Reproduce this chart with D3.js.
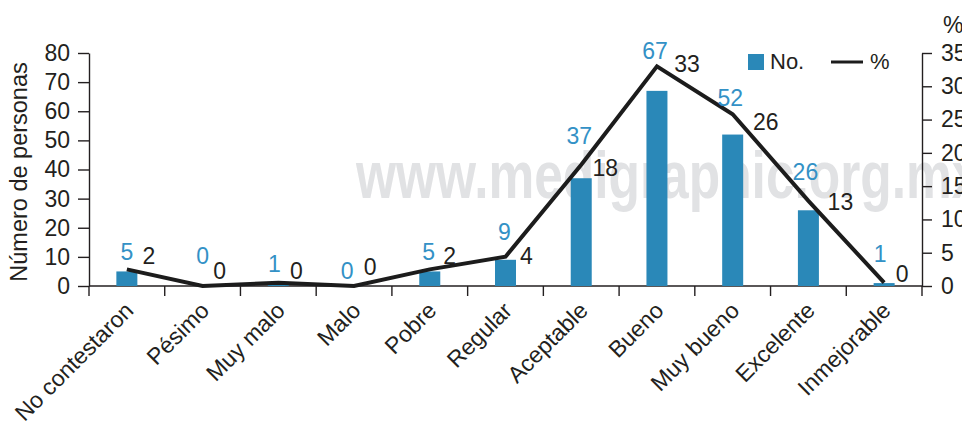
<!DOCTYPE html>
<html>
<head>
<meta charset="utf-8">
<script src="https://cdn.jsdelivr.net/npm/d3@7"></script>
<style>
  body { margin: 0; background: #fff; }
  svg { display: block; font-family: "Liberation Sans", Arial, sans-serif; }
</style>
</head>
<body>
<div id="chart"></div>
<script>
// Data
const categories = ["No contestaron", "Pésimo", "Muy malo", "Malo", "Pobre", "Regular",
    "Aceptable", "Bueno", "Muy bueno", "Excelente", "Inmejorable"];
const counts = [5, 0, 1, 0, 5, 9, 37, 67, 52, 26, 1];
const percents = [2.5, 0, 0.5, 0, 2.5, 4.4, 18.2, 33, 25.8, 12.8, 0.5];
const percentLabels = [2, 0, 0, 0, 2, 4, 18, 33, 26, 13, 0];
const countTicks = [0, 10, 20, 30, 40, 50, 60, 70, 80];
const percentTicks = [0, 5, 10, 15, 20, 25, 30, 35];

const width = 962, height = 422;
const plot = { left: 89, right: 922, top: 53, bottom: 286 };
const ink = "#231f20";
const barColor = "#2a88b8";
const labelBlue = "#3391c6";

const svg = d3.select("#chart")
    .append("svg")
    .attr("width", width)
    .attr("height", height);

// Scales
const x = d3.scaleBand()
    .domain(categories)
    .range([plot.left, plot.right]);

const yCount = d3.scaleLinear()
    .domain([0, 80])
    .range([plot.bottom, plot.top]);

const yPct = d3.scaleLinear()
    .domain([0, 35])
    .range([plot.bottom, plot.top]);

const cx = c => x(c) + x.bandwidth() / 2;

// Watermark (behind marks)
svg.append("text")
    .attr("transform", "translate(356,198) scale(0.78,1)")
    .style("font-size", "66px")
    .style("font-weight", "bold")
    .style("fill", "#e1e2e4")
    .text("www.medigraphic.org.mx");

// Left axis
const gLeft = svg.append("g")
    .attr("transform", `translate(${plot.left},0)`)
    .call(d3.axisLeft(yCount).tickValues(countTicks).tickSize(11).tickSizeOuter(0).tickPadding(8));

// Right axis
const gRight = svg.append("g")
    .attr("transform", `translate(${plot.right},0)`)
    .call(d3.axisRight(yPct).tickValues(percentTicks).tickSize(10).tickSizeOuter(0).tickPadding(9));

[gLeft, gRight].forEach(g => {
    g.select(".domain").attr("stroke", ink).attr("stroke-width", 1.4);
    g.selectAll(".tick line").attr("stroke", ink).attr("stroke-width", 1.4);
    g.selectAll(".tick text")
        .attr("fill", ink)
        .style("font-size", "23px")
        .style("font-family", "'Liberation Sans', Arial, sans-serif");
});

// Bottom axis: baseline with ticks on band edges
svg.append("line")
    .attr("x1", plot.left).attr("x2", plot.right)
    .attr("y1", plot.bottom).attr("y2", plot.bottom)
    .attr("stroke", ink).attr("stroke-width", 1.4);

const edges = categories.map(c => x(c)).concat([x(categories[categories.length - 1]) + x.bandwidth()]);
svg.selectAll(".xtick")
    .data(edges)
    .enter()
    .append("line")
    .attr("class", "xtick")
    .attr("x1", d => d).attr("x2", d => d)
    .attr("y1", plot.bottom).attr("y2", plot.bottom + 10)
    .attr("stroke", ink).attr("stroke-width", 1.4);

svg.selectAll(".xlabel")
    .data(categories)
    .enter()
    .append("text")
    .attr("class", "xlabel")
    .attr("transform", d => `translate(${cx(d) + 8},${plot.bottom + 26}) rotate(-45)`)
    .attr("text-anchor", "end")
    .style("font-size", "23px")
    .attr("fill", ink)
    .text(d => d);

// Axis titles
svg.append("text")
    .attr("transform", "translate(27,172) rotate(-90)")
    .attr("text-anchor", "middle")
    .style("font-size", "23.5px")
    .attr("fill", ink)
    .text("Número de personas");

svg.append("text")
    .attr("x", 943)
    .attr("y", 33)
    .style("font-size", "23px")
    .attr("fill", ink)
    .text("%");

// Bars
const barW = 21;
svg.selectAll(".bar")
    .data(categories)
    .enter()
    .append("rect")
    .attr("class", "bar")
    .attr("x", d => cx(d) - barW / 2)
    .attr("y", (d, i) => yCount(counts[i]))
    .attr("width", barW)
    .attr("height", (d, i) => plot.bottom - yCount(counts[i]))
    .attr("fill", barColor);

// Percent line
const line = d3.line()
    .x((d, i) => cx(categories[i]))
    .y(d => yPct(d));

svg.append("path")
    .datum(percents)
    .attr("d", line)
    .attr("fill", "none")
    .attr("stroke", "#1c1c1c")
    .attr("stroke-width", 4)
    .attr("stroke-linejoin", "miter");

// Value labels (hand-placed nudges, as in the original figure)
const blueDx = [0, 0, -4, -7, -1, -1, -2, -2, -2.5, -3, -4];
const blueDy = [-11, -22, -11, -7, -11, -20, -34, -32, -29, -30, -21];
const blackDx = [22, 17, 18, 16, 20, 21, 24, 30, 33, 32, 18];
const blackDy = [-5, -7, -4, -11, -5, 7, 11, 6, 16, 9, -1];

svg.selectAll(".nlabel")
    .data(categories)
    .enter()
    .append("text")
    .attr("class", "nlabel")
    .attr("x", (d, i) => cx(d) + blueDx[i])
    .attr("y", (d, i) => yCount(counts[i]) + blueDy[i])
    .attr("text-anchor", "middle")
    .style("font-size", "23px")
    .attr("fill", labelBlue)
    .text((d, i) => counts[i]);

svg.selectAll(".plabel")
    .data(categories)
    .enter()
    .append("text")
    .attr("class", "plabel")
    .attr("x", (d, i) => cx(d) + blackDx[i])
    .attr("y", (d, i) => yPct(percents[i]) + blackDy[i])
    .attr("text-anchor", "middle")
    .style("font-size", "23px")
    .attr("fill", ink)
    .text((d, i) => percentLabels[i]);

// Legend
const legend = svg.append("g").attr("transform", "translate(748,54)");
legend.append("rect")
    .attr("width", 16).attr("height", 16)
    .attr("fill", barColor);
legend.append("text")
    .attr("x", 22).attr("y", 15)
    .style("font-size", "22px")
    .attr("fill", ink)
    .text("No.");
legend.append("line")
    .attr("x1", 83).attr("x2", 115)
    .attr("y1", 8).attr("y2", 8)
    .attr("stroke", "#1c1c1c").attr("stroke-width", 3);
legend.append("text")
    .attr("x", 122).attr("y", 15)
    .style("font-size", "22px")
    .attr("fill", ink)
    .text("%");
</script>
</body>
</html>
